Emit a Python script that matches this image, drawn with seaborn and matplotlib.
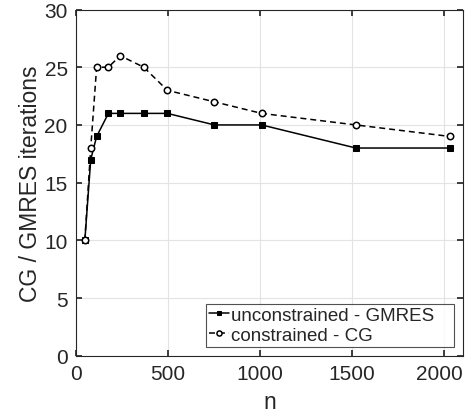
import matplotlib
matplotlib.use("Agg")
import matplotlib.pyplot as plt
from matplotlib.transforms import ScaledTranslation
import seaborn as sns
import pandas as pd

n_values = [48, 80, 112, 176, 240, 368, 496, 752, 1008, 1520, 2032]
unconstrained_gmres = [10, 17, 19, 21, 21, 21, 21, 20, 20, 18, 18]
constrained_cg = [10, 18, 25, 25, 26, 25, 23, 22, 21, 20, 19]
series_labels = ["unconstrained - GMRES", "constrained - CG"]

sns.set_theme(style="whitegrid")
plt.rcParams['font.family'] = ['Liberation Sans', 'DejaVu Sans']

df = pd.DataFrame({
    "n": n_values * 2,
    "iters": unconstrained_gmres + constrained_cg,
    "series": [series_labels[0]] * len(n_values) + [series_labels[1]] * len(n_values),
})

W, H = 465, 414
fig = plt.figure(figsize=(W/100, H/100), dpi=100)
ax_l, ax_r, ax_t, ax_b = 76, 462.7, 10.5, 356.8
ax = fig.add_axes([ax_l/W, 1 - ax_b/H, (ax_r-ax_l)/W, (ax_b-ax_t)/H])

sns.lineplot(data=df[df.series == series_labels[0]], x="n", y="iters", ax=ax,
             color="black", lw=1.1, marker="s", markersize=3.9,
             markerfacecolor="black", markeredgecolor="black",
             label=series_labels[0])
sns.lineplot(data=df[df.series == series_labels[1]], x="n", y="iters", ax=ax,
             color="black", lw=1.1, linestyle=(0, (3.9, 2.6)), marker="o", markersize=4.6,
             markerfacecolor="white", markeredgecolor="black", markeredgewidth=1.1,
             label=series_labels[1])

ax.set_xlim(0, 2100)
ax.set_ylim(0, 30)
ax.set_xticks([0, 500, 1000, 1500, 2000])
ax.set_yticks([0, 5, 10, 15, 20, 25, 30])
ax.set_xlabel("n", fontsize=16.5, labelpad=5)
ax.set_ylabel("CG / GMRES iterations", fontsize=16.5, labelpad=2)
ax.tick_params(labelsize=15, direction="in", length=4, color="#262626",
               top=True, right=True, bottom=True, left=True, pad=6)
ax.grid(True, color="#e3e3e3", lw=0.8)
for s in ax.spines.values():
    s.set_color("#262626")
    s.set_linewidth(0.8)
    s.set_visible(True)

# keep last x tick label inside the figure (as in reference)
fig.canvas.draw()
last = ax.get_xticklabels()[-1]
last.set_transform(last.get_transform() + ScaledTranslation(-5/100, 0, fig.dpi_scale_trans))

axw = ax_r - ax_l
axh = ax_b - ax_t
leg_x0 = (206 - ax_l) / axw
leg_x1 = (454 - ax_l) / axw
leg_y0 = (ax_b - 347.5) / axh
leg = ax.legend(loc="lower left", bbox_to_anchor=(leg_x0, leg_y0, leg_x1 - leg_x0, 0.0),
                mode="expand", fontsize=13.5, frameon=True, fancybox=False,
                handlelength=1.05, handletextpad=0.12, borderpad=0.15,
                labelspacing=0.15, borderaxespad=0.0, markerscale=0.8)
leg.get_frame().set_edgecolor("#262626")
leg.get_frame().set_linewidth(0.8)

fig.savefig("out.png", dpi=100)
